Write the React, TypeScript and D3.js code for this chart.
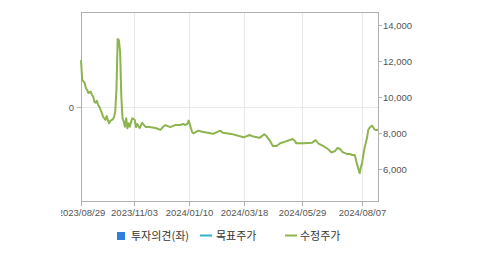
import React from "react";
import * as d3 from "d3";

const START = "2023-08-29";
const END = "2024-08-27";
const holidays = [
  "2023-09-28", "2023-09-29", "2023-10-02", "2023-10-03", "2023-10-09",
  "2023-12-25", "2023-12-29", "2024-01-01", "2024-02-09", "2024-02-12",
  "2024-03-01", "2024-04-10", "2024-05-01", "2024-05-06", "2024-05-15",
  "2024-06-06", "2024-08-15",
];

const priceDates = [
  "2023-08-29", "2023-08-30", "2023-09-01", "2023-09-04", "2023-09-05", "2023-09-06", "2023-09-08",
  "2023-09-11", "2023-09-12", "2023-09-13", "2023-09-14", "2023-09-15", "2023-09-18", "2023-09-19",
  "2023-09-20", "2023-09-21", "2023-09-22", "2023-09-25", "2023-09-26", "2023-09-27", "2023-10-04",
  "2023-10-05", "2023-10-06", "2023-10-11", "2023-10-12", "2023-10-13", "2023-10-16", "2023-10-17",
  "2023-10-18", "2023-10-19", "2023-10-20", "2023-10-23", "2023-10-24", "2023-10-25", "2023-10-26",
  "2023-10-27", "2023-10-30", "2023-10-31", "2023-11-01", "2023-11-02", "2023-11-06", "2023-11-07",
  "2023-11-08", "2023-11-10", "2023-11-14", "2023-11-17", "2023-11-22", "2023-11-29", "2023-12-05",
  "2023-12-07", "2023-12-11", "2023-12-15", "2023-12-21", "2023-12-28", "2024-01-04", "2024-01-05",
  "2024-01-09", "2024-01-10", "2024-01-11", "2024-01-12", "2024-01-15", "2024-01-16", "2024-01-22",
  "2024-01-25", "2024-02-05", "2024-02-07", "2024-02-19", "2024-02-21", "2024-03-04", "2024-03-18",
  "2024-03-25", "2024-03-28", "2024-04-02", "2024-04-04", "2024-04-11", "2024-04-15", "2024-04-18",
  "2024-04-22", "2024-04-25", "2024-04-30", "2024-05-08", "2024-05-14", "2024-05-17", "2024-05-21",
  "2024-05-22", "2024-05-30", "2024-06-11", "2024-06-13", "2024-06-14", "2024-06-18", "2024-06-24",
  "2024-06-28", "2024-07-03", "2024-07-08", "2024-07-10", "2024-07-12", "2024-07-16", "2024-07-22",
  "2024-07-24", "2024-07-26", "2024-07-30", "2024-08-01", "2024-08-02", "2024-08-05", "2024-08-06",
  "2024-08-07", "2024-08-08", "2024-08-09", "2024-08-12", "2024-08-13", "2024-08-14", "2024-08-16",
  "2024-08-20", "2024-08-21", "2024-08-22", "2024-08-23", "2024-08-27",
];

const adjustedPrice = [
  12050, 10950, 10780, 10500, 10390, 10220, 10300,
  10110, 10020, 9740, 9680, 9790, 9560, 9460,
  9280, 9130, 8910, 8820, 8720, 8940, 8720,
  8540, 8680, 8760, 8870, 9180, 10400, 13220,
  13150, 12500, 10000, 8800, 8630, 8350, 8820,
  8260, 8540, 8350, 8630, 8820, 8720, 8330,
  8500, 8280, 8560, 8330, 8330, 8280, 8170,
  8330, 8440, 8330, 8440, 8440, 8500, 8440,
  8500, 8690, 8500, 8250, 8050, 7980, 8130,
  8070, 7980, 7950, 8130, 8020, 7950, 7760,
  7890, 7800, 7760, 7730, 7930, 7800, 7520,
  7280, 7280, 7430, 7520, 7610, 7670, 7570,
  7430, 7430, 7460, 7560, 7610, 7430, 7280,
  7110, 6920, 7000, 7170, 7110, 6940, 6830,
  6830, 6780, 6780, 6220, 6000, 5760, 6110,
  6330, 6780, 7170, 7440, 7720, 8170, 8280,
  8410, 8330, 8200, 8170, 8170,
];

const xTickDates = ["2023-08-29", "2023-11-03", "2024-01-10", "2024-03-18", "2024-05-29", "2024-08-07"];
const priceTicks = [6000, 8000, 10000, 12000, 14000];
const opinionTicks = [0];
const legendItems = ["투자의견(좌)", "목표주가", "수정주가"];

const parse = d3.timeParse("%Y-%m-%d");
const fmtKey = d3.timeFormat("%Y-%m-%d");
const fmtLabel = d3.timeFormat("%Y/%m/%d");

const holidaySet = new Set(holidays);
const tradingDays = d3.timeDay
  .range(parse(START)!, d3.timeDay.offset(parse(END)!, 1))
  .filter((d) => d.getDay() !== 0 && d.getDay() !== 6 && !holidaySet.has(fmtKey(d)));
const dayIndex = new Map(tradingDays.map((d, i) => [fmtKey(d), i]));

const L = 81, R = 378, T = 12, B = 201;

export default function App() {
  const x = d3.scaleLinear().domain([0, tradingDays.length - 1]).range([L, R]);
  const y = d3.scaleLinear().domain([4222, 14722]).range([B, T]);
  const yLeft = d3.scaleLinear().domain([-1, 1]).range([B, T]);
  const fmtNum = d3.format(",");

  const pts = priceDates.map((d, i) => ({ i: dayIndex.get(d) ?? 0, v: adjustedPrice[i] }));
  const line = d3.line<{ i: number; v: number }>().x((p) => x(p.i)).y((p) => y(p.v));

  const axisColor = "#b0b0b0";
  const gridColor = "#e8e8e8";
  const textColor = "#555";
  const numFont = "'Liberation Sans', Arial, sans-serif";
  const krFont = "'Noto Sans CJK KR', 'Noto Sans', sans-serif";

  const legendX = [117, 200, 285];

  return (
    <div style={{ position: "absolute", left: 0, top: 0 }}>
      <svg width={479} height={255} style={{ display: "block", background: "#fff" }}>
        <defs>
          <clipPath id="labelClip">
            <rect x={61} y={0} width={418} height={255} />
          </clipPath>
        </defs>
        {/* grid */}
        {xTickDates.map((d) => {
          const xi = Math.round(x(dayIndex.get(d) ?? 0)) + 0.5;
          return <line key={d} x1={xi} x2={xi} y1={T} y2={B} stroke={gridColor} strokeWidth={1} />;
        })}
        {opinionTicks.map((t) => {
          const yi = Math.round(yLeft(t)) + 0.5;
          return <line key={t} x1={L} x2={R} y1={yi} y2={yi} stroke={gridColor} strokeWidth={1} />;
        })}
        {/* frame */}
        <line x1={L + 0.5} x2={R + 0.5} y1={T + 0.5} y2={T + 0.5} stroke={axisColor} />
        <line x1={L + 0.5} x2={R + 0.5} y1={B + 0.5} y2={B + 0.5} stroke={axisColor} />
        <line x1={L + 0.5} x2={L + 0.5} y1={T} y2={B + 1} stroke={axisColor} />
        <line x1={R + 0.5} x2={R + 0.5} y1={T} y2={B + 1} stroke={axisColor} />
        {/* x ticks */}
        <g clipPath="url(#labelClip)">
          {xTickDates.map((d) => {
            const xi = Math.round(x(dayIndex.get(d) ?? 0)) + 0.5;
            return (
              <g key={d}>
                <line x1={xi} x2={xi} y1={B} y2={B + 5} stroke={axisColor} />
                <text x={xi} y={216} textAnchor="middle" fontSize={9.5} fontFamily={numFont} fill={textColor}>
                  {fmtLabel(parse(d)!)}
                </text>
              </g>
            );
          })}
        </g>
        {/* right axis */}
        {priceTicks.map((t) => {
          const yi = Math.round(y(t)) + 0.5;
          return (
            <g key={t}>
              <line x1={R} x2={R + 4} y1={yi} y2={yi} stroke={axisColor} />
              <text x={R + 5} y={yi + 3.5} fontSize={9.5} fontFamily={numFont} fill={textColor}>
                {fmtNum(t)}
              </text>
            </g>
          );
        })}
        {/* left axis */}
        {opinionTicks.map((t) => {
          const yi = Math.round(yLeft(t)) + 0.5;
          return (
            <g key={t}>
              <line x1={L - 4} x2={L} y1={yi} y2={yi} stroke={axisColor} />
              <text x={L - 7} y={yi + 3.5} textAnchor="end" fontSize={9.5} fontFamily={numFont} fill={textColor}>
                {t}
              </text>
            </g>
          );
        })}
        {/* price line */}
        <path d={line(pts) ?? ""} fill="none" stroke="#8db44e" strokeWidth={2} strokeLinejoin="round" />
        {/* legend */}
        <rect x={legendX[0]} y={232} width={8} height={8} fill="#2f80dd" />
        <text x={legendX[0] + 14} y={240} fontSize={11} fontFamily={krFont} fill="#333">{legendItems[0]}</text>
        <line x1={legendX[1]} x2={legendX[1] + 12} y1={235.5} y2={235.5} stroke="#31b0c8" strokeWidth={2} />
        <text x={legendX[1] + 16} y={240} fontSize={11} fontFamily={krFont} fill="#333">{legendItems[1]}</text>
        <line x1={legendX[2]} x2={legendX[2] + 12} y1={235.5} y2={235.5} stroke="#8db44e" strokeWidth={2} />
        <text x={legendX[2] + 15} y={240} fontSize={11} fontFamily={krFont} fill="#333">{legendItems[2]}</text>
      </svg>
    </div>
  );
}
